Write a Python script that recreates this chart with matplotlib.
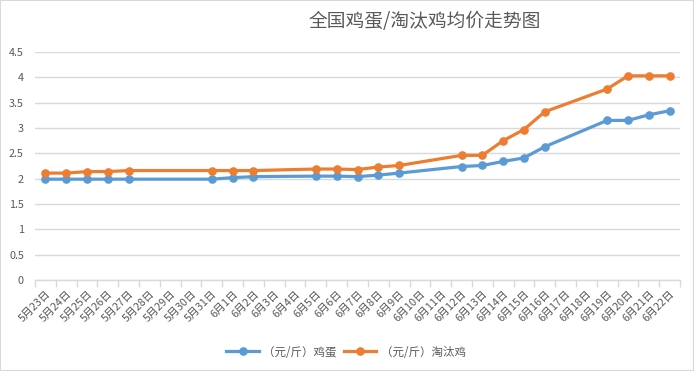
import matplotlib
matplotlib.use("Agg")
import matplotlib.pyplot as plt
from matplotlib.patches import Rectangle
from matplotlib.lines import Line2D

plt.rcParams['font.family'] = ['Noto Sans CJK SC', 'DejaVu Sans']

dates = ["5月23日", "5月24日", "5月25日", "5月26日", "5月27日", "5月28日", "5月29日", "5月30日",
         "5月31日", "6月1日", "6月2日", "6月3日", "6月4日", "6月5日", "6月6日", "6月7日", "6月8日",
         "6月9日", "6月10日", "6月11日", "6月12日", "6月13日", "6月14日", "6月15日", "6月16日",
         "6月17日", "6月18日", "6月19日", "6月20日", "6月21日", "6月22日"]

egg = [1.99, 1.99, 1.99, 1.99, 1.99, None, None, None,
       1.99, 2.02, 2.04, None, None, 2.05, 2.05, 2.04, 2.07,
       2.11, None, None, 2.24, 2.26, 2.34, 2.41, 2.63,
       None, None, 3.15, 3.15, 3.26, 3.34]

hen = [2.11, 2.11, 2.14, 2.14, 2.16, None, None, None,
       2.16, 2.16, 2.16, None, None, 2.19, 2.19, 2.18, 2.23,
       2.26, None, None, 2.46, 2.46, 2.75, 2.97, 3.32,
       None, None, 3.77, 4.03, 4.03, 4.03]

series_names = ["（元/斤）鸡蛋", "（元/斤）淘汰鸡"]
colors = ["#5B9BD5", "#ED7D31"]
title = "全国鸡蛋/淘汰鸡均价走势图"
yticks = [0, 0.5, 1, 1.5, 2, 2.5, 3, 3.5, 4, 4.5]

W, H = 694, 371
fig = plt.figure(figsize=(W / 100, H / 100), dpi=100)
ax = fig.add_axes([35 / W, (H - 280) / H, (680 - 35) / W, (280 - 52) / H])

for vals, name, c in zip([egg, hen], series_names, colors):
    xs = [i for i, v in enumerate(vals) if v is not None]
    ys = [v for v in vals if v is not None]
    ax.plot(xs, ys, color=c, lw=2.3, marker='o', ms=5.2, label=name,
            solid_capstyle='round', zorder=3)

ax.set_xlim(-0.5, len(dates) - 0.5)
ax.set_ylim(0, 4.5)
ax.set_yticks(yticks)
ax.set_yticklabels([f"{t:g}" for t in yticks])
ax.yaxis.grid(True, color="#d9d9d9", lw=1)
ax.set_axisbelow(True)
for s in ["top", "right", "left"]:
    ax.spines[s].set_visible(False)
ax.spines["bottom"].set_color("#d9d9d9")
ax.spines["bottom"].set_linewidth(1)

ax.set_xticks(range(len(dates)))
ax.set_xticklabels(dates, rotation=45, ha='right', rotation_mode='anchor',
                   fontsize=7.8, color="#595959")
ax.set_xticks([i - 0.5 for i in range(len(dates) + 1)], minor=True)
ax.tick_params(axis='x', which='major', length=0, pad=6)
ax.tick_params(axis='x', which='minor', length=5, color="#d9d9d9", width=1)
ax.tick_params(axis='y', length=0, labelsize=7.8, labelcolor="#595959", pad=8)

fig.text(425 / W, 1 - 22 / H, title, ha='center', va='center', fontsize=13.5, color="#595959")

handles = [Line2D([0], [0], color=c, lw=2.3, marker='o', ms=5.2) for c in colors]
fig.legend(handles, series_names, loc='center', bbox_to_anchor=(346 / W, 1 - 352 / H),
           ncol=2, frameon=False, fontsize=8.3, labelcolor="#595959",
           handlelength=2.8, columnspacing=0.6, handletextpad=0.4)

fig.patches.append(Rectangle((0, 0), 1, 1, transform=fig.transFigure, fill=False,
                             edgecolor="#d9d9d9", lw=1.5))

fig.savefig("out.png", dpi=100)
